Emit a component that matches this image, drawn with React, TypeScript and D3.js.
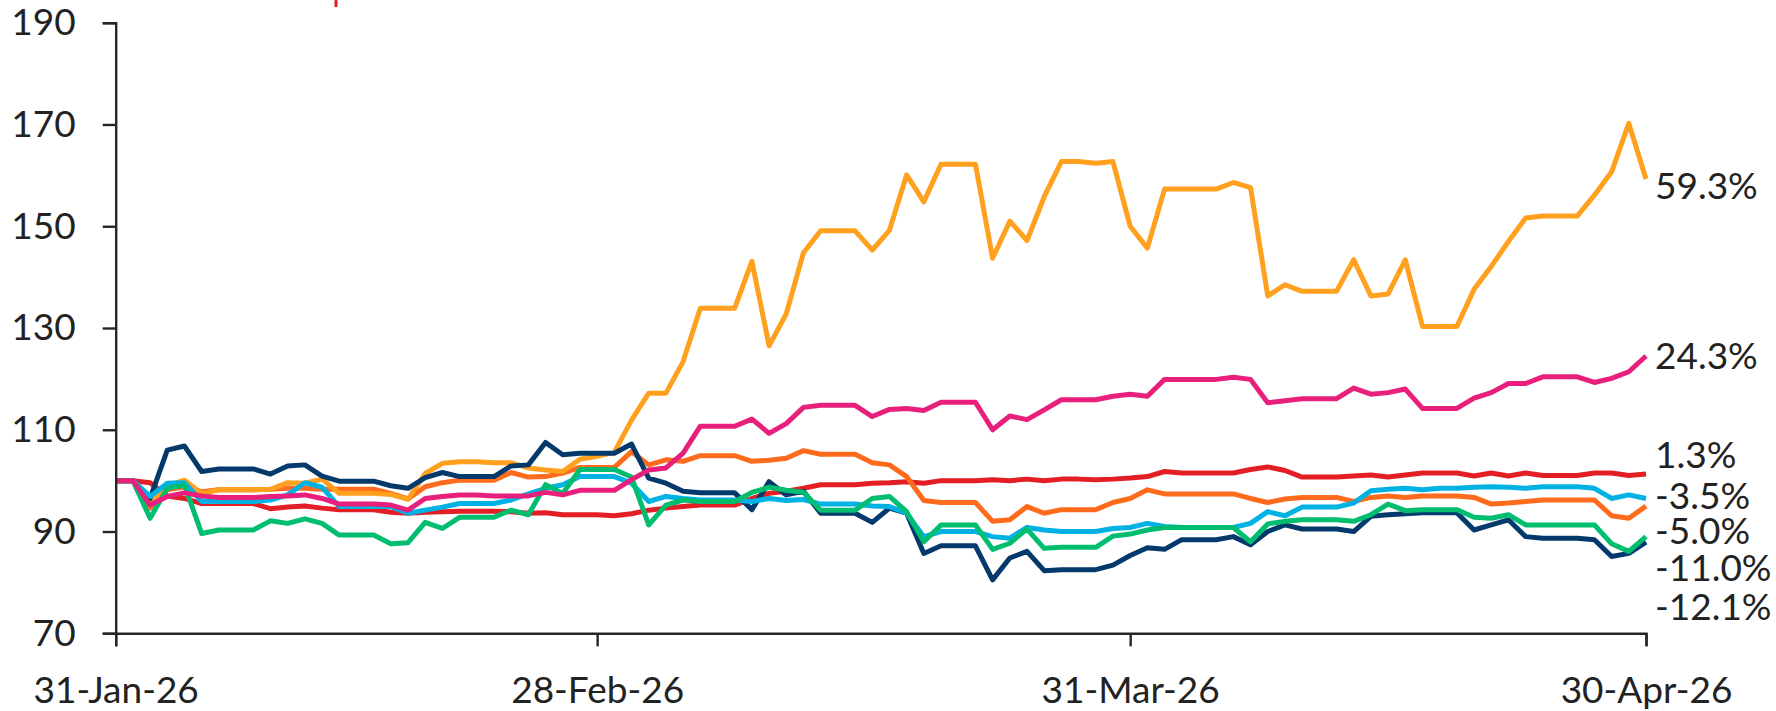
import React, { useEffect, useRef } from 'react';
import * as d3 from 'd3';

// daily index levels (31-Jan-26 = 100), weekends carry the Friday close
const startDate = new Date(2026, 0, 31);
const endDate = new Date(2026, 3, 30);

const redSeries = [
  100, 100, 99.6, 97.0, 96.5, 95.5, 95.5, 95.5, 95.5, 94.5, 94.8, 95.0, 94.6, 94.3, 94.3, 94.3, 93.8, 93.6, 93.8, 93.9, 94.0, 94.0, 94.0,
  93.9, 93.6, 93.7, 93.3, 93.3, 93.3, 93.1, 93.5, 94.2, 94.6, 94.9, 95.2, 95.2, 95.2, 96.5, 97.5, 97.9, 98.5, 99.2, 99.2, 99.2, 99.5, 99.6,
  99.8, 99.5, 100.0, 100.0, 100.0, 100.2, 100.0, 100.3, 100.0, 100.3, 100.3, 100.2, 100.3, 100.5, 100.8, 101.8, 101.5, 101.5, 101.5, 101.5, 102.2, 102.7, 102.0,
  100.7, 100.7, 100.7, 100.9, 101.1, 100.7, 101.1, 101.5, 101.5, 101.5, 100.9, 101.5, 100.9, 101.5, 101.0, 101.0, 101.0, 101.5, 101.5, 101.0, 101.3,
];

const orangeSeries = [
  100, 100, 94.6, 98.2, 98.8, 97.8, 98.2, 98.2, 98.2, 98.3, 98.5, 98.5, 98.3, 98.3, 98.3, 98.3, 97.5, 96.4, 98.8, 99.6, 100.1, 100.1, 100.1,
  101.6, 100.7, 100.8, 101.5, 102.6, 102.6, 102.6, 105.7, 103.1, 104.1, 103.8, 104.9, 104.9, 104.9, 103.8, 104.0, 104.4, 105.9, 105.2, 105.2, 105.2, 103.5, 103.1,
  100.8, 96.1, 95.7, 95.7, 95.7, 92.0, 92.3, 94.9, 93.6, 94.3, 94.3, 94.3, 95.7, 96.5, 98.2, 97.4, 97.4, 97.4, 97.4, 97.4, 96.5, 95.7, 96.4,
  96.7, 96.7, 96.7, 95.9, 96.7, 97.0, 96.7, 97.0, 97.0, 97.0, 96.7, 95.4, 95.6, 95.9, 96.2, 96.2, 96.2, 96.2, 93.1, 92.6, 95.0,
];

const goldSeries = [
  100, 100, 95.2, 99.0, 100.1, 97.5, 98.2, 98.2, 98.2, 98.3, 99.6, 99.5, 100.3, 97.5, 97.5, 97.5, 97.3, 96.3, 101.4, 103.4, 103.7, 103.7, 103.5,
  103.5, 102.5, 102.1, 101.8, 104.2, 104.8, 105.6, 111.9, 117.2, 117.2, 123.4, 133.9, 133.9, 133.9, 143.1, 126.5, 132.8, 144.8, 149.1, 149.1, 149.1, 145.3, 149.2,
  160.1, 154.8, 162.2, 162.2, 162.2, 143.7, 151.0, 147.2, 155.8, 162.7, 162.7, 162.4, 162.7, 150.0, 145.7, 157.3, 157.3, 157.3, 157.3, 158.6, 157.6, 136.3, 138.5,
  137.2, 137.2, 137.2, 143.4, 136.3, 136.7, 143.4, 130.3, 130.3, 130.3, 137.6, 142.1, 147.0, 151.6, 152.0, 152.0, 152.0, 156.1, 160.7, 170.2, 159.3,
];

const navySeries = [
  100, 100, 96.5, 106.0, 106.8, 101.8, 102.3, 102.3, 102.3, 101.3, 102.9, 103.1, 100.9, 99.9, 99.9, 99.9, 99.0, 98.5, 100.6, 101.6, 100.8, 100.8, 100.8,
  102.9, 103.1, 107.5, 105.1, 105.4, 105.4, 105.4, 107.2, 100.5, 99.5, 97.9, 97.6, 97.6, 97.6, 94.3, 99.8, 97.2, 97.9, 93.6, 93.6, 93.6, 91.8, 94.6,
  93.6, 85.7, 87.2, 87.2, 87.2, 80.5, 84.8, 86.1, 82.3, 82.5, 82.5, 82.5, 83.4, 85.3, 86.8, 86.5, 88.4, 88.4, 88.4, 89.0, 87.4, 90.0, 91.3,
  90.5, 90.5, 90.5, 90.0, 93.0, 93.3, 93.5, 93.7, 93.7, 93.7, 90.3, 91.3, 92.3, 89.0, 88.7, 88.7, 88.7, 88.4, 85.1, 85.7, 87.9,
];

const blueSeries = [
  100, 100, 96.9, 99.5, 99.6, 95.9, 95.9, 95.9, 95.9, 96.2, 97.2, 99.6, 98.7, 94.9, 94.9, 94.9, 94.9, 93.6, 94.2, 94.8, 95.5, 95.5, 95.5,
  96.2, 97.4, 98.5, 99.2, 100.8, 100.8, 100.8, 99.5, 95.9, 96.9, 96.5, 96.2, 96.2, 96.2, 95.9, 96.5, 96.1, 96.3, 95.4, 95.4, 95.4, 95.0, 94.9,
  93.6, 89.0, 90.0, 90.0, 90.0, 89.0, 88.7, 90.8, 90.3, 90.0, 90.0, 90.0, 90.6, 90.8, 91.6, 91.0, 90.8, 90.8, 90.8, 90.8, 91.6, 93.9, 93.1,
  94.8, 94.8, 94.8, 95.6, 98.0, 98.3, 98.5, 98.2, 98.5, 98.5, 98.7, 98.8, 98.7, 98.5, 98.8, 98.8, 98.8, 98.5, 96.5, 97.2, 96.5,
];

const greenSeries = [
  100, 100, 92.6, 98.5, 99.1, 89.6, 90.3, 90.3, 90.3, 92.1, 91.6, 92.5, 91.6, 89.3, 89.3, 89.3, 87.6, 87.8, 91.8, 90.6, 92.8, 92.8, 92.8,
  94.2, 93.3, 99.2, 97.5, 102.2, 102.2, 102.2, 100.7, 91.3, 95.2, 96.2, 95.9, 95.9, 95.9, 97.7, 98.7, 98.1, 97.7, 94.2, 94.2, 94.2, 96.5, 96.9,
  93.9, 88.0, 91.3, 91.3, 91.3, 86.5, 87.7, 90.5, 86.7, 86.9, 86.9, 86.9, 89.1, 89.5, 90.3, 90.8, 90.8, 90.8, 90.8, 90.8, 88.0, 91.5, 92.0,
  92.3, 92.3, 92.3, 92.0, 93.3, 95.4, 94.1, 94.3, 94.3, 94.3, 92.8, 92.6, 93.3, 91.3, 91.3, 91.3, 91.3, 91.3, 87.6, 86.1, 89.0,
];

const pinkSeries = [
  100, 100, 95.2, 96.9, 97.6, 97.0, 96.7, 96.7, 96.7, 96.9, 97.0, 97.2, 96.5, 95.4, 95.4, 95.4, 95.2, 94.2, 96.5, 96.9, 97.2, 97.2, 97.0,
  97.0, 97.0, 97.7, 97.2, 98.1, 98.1, 98.1, 100.2, 102.1, 102.5, 105.4, 110.7, 110.7, 110.7, 112.1, 109.3, 111.2, 114.4, 114.8, 114.8, 114.8, 112.6, 114.0,
  114.2, 113.8, 115.4, 115.4, 115.4, 110.0, 112.7, 112.0, 113.9, 115.9, 115.9, 115.9, 116.6, 117.0, 116.6, 119.9, 119.9, 119.9, 119.9, 120.3, 119.9, 115.3, 115.7,
  116.1, 116.1, 116.1, 118.2, 117.0, 117.3, 118.0, 114.2, 114.2, 114.2, 116.2, 117.3, 119.1, 119.1, 120.4, 120.4, 120.4, 119.3, 120.1, 121.4, 124.5,
];

// end-of-period change labels, drawn at the right of the plot
const endLabels = ['59.3%', '24.3%', '1.3%', '-3.5%', '-5.0%', '-11.0%', '-12.1%'];
const endLabelAt = [157.9, 124.5, 105.0, 97.0, 90.1, 82.9, 75.2];

const yTicks = [70, 90, 110, 130, 150, 170, 190];
const xTicks = [new Date(2026, 0, 31), new Date(2026, 1, 28), new Date(2026, 2, 31), new Date(2026, 3, 30)];

// bottom to top drawing order
const seriesList = [
  { name: 'red', values: redSeries, color: '#e31e24' },
  { name: 'orange', values: orangeSeries, color: '#ff6b1c' },
  { name: 'gold', values: goldSeries, color: '#ffa01e' },
  { name: 'navy', values: navySeries, color: '#04396c' },
  { name: 'blue', values: blueSeries, color: '#00b2e4' },
  { name: 'green', values: greenSeries, color: '#00bd70' },
  { name: 'pink', values: pinkSeries, color: '#e9207b' },
];

const W = 1776;
const H = 711;
const FONT = 'Lato, "Open Sans", sans-serif';

export default function App() {
  const ref = useRef<SVGSVGElement | null>(null);

  useEffect(() => {
    const svg = d3.select(ref.current);
    svg.selectAll('*').remove();

    const dates = d3.timeDay.range(startDate, d3.timeDay.offset(endDate, 1));

    const x = d3.scaleTime().domain([startDate, endDate]).range([115.7, 1646]);
    const y = d3.scaleLinear().domain([70, 190]).range([633.3, 22.7]);

    const line = d3.line<number>()
      .x((d, i) => x(dates[i]))
      .y(d => y(d));

    svg.append('g')
      .selectAll('path')
      .data(seriesList)
      .enter().append('path')
      .attr('d', d => line(d.values))
      .attr('fill', 'none')
      .attr('stroke', d => d.color)
      .attr('stroke-width', 5)
      .attr('stroke-linejoin', 'round');

    const yAxis = svg.append('g')
      .attr('transform', `translate(${x(startDate)},0)`)
      .call(d3.axisLeft(y).tickValues(yTicks).tickSize(13).tickPadding(27).tickFormat(d3.format('d')));

    const xAxis = svg.append('g')
      .attr('transform', `translate(0,${y(70)})`)
      .call(d3.axisBottom(x).tickValues(xTicks).tickSize(13).tickPadding(30)
        .tickFormat(d => d3.timeFormat('%d-%b-%y')(d as Date)));

    [yAxis, xAxis].forEach(g => {
      g.select('.domain').attr('stroke', '#262626').attr('stroke-width', 2.4);
      g.selectAll('.tick line').attr('stroke', '#262626').attr('stroke-width', 2.4);
      g.selectAll('.tick text')
        .attr('fill', '#222')
        .style('font-family', FONT)
        .style('font-size', '37px');
    });

    svg.append('g')
      .selectAll('text')
      .data(endLabels)
      .enter().append('text')
      .attr('x', 1655)
      .attr('y', (d, i) => y(endLabelAt[i]))
      .attr('dy', '0.35em')
      .attr('fill', '#222')
      .style('font-family', FONT)
      .style('font-size', '37px')
      .text(d => d);

    // bit of the red heading sitting above the frame
    svg.append('line')
      .attr('x1', 336).attr('x2', 336)
      .attr('y1', 0).attr('y2', 7)
      .attr('stroke', '#e31e24')
      .attr('stroke-width', 3);
  }, []);

  return (
    <svg
      ref={ref}
      width={W}
      height={H}
      style={{ position: 'absolute', left: 0, top: 0, background: '#fff' }}
    />
  );
}
